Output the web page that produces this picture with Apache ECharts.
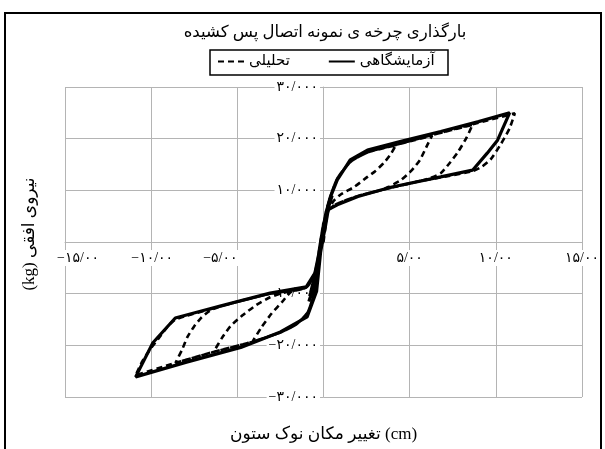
<!DOCTYPE html>
<html>
<head>
<meta charset="utf-8">
<script src="https://cdn.jsdelivr.net/npm/echarts@6/dist/echarts.min.js"></script>
<style>
  html, body { margin: 0; padding: 0; background: #fff; }
  #chart { width: 605px; height: 449px; }
</style>
</head>
<body>
<div id="chart"></div>
<script>
// Axis ticks and their Persian labels
const xTickValues = [-15, -10, -5, 5, 10, 15];
const xTickLabels = ['−۱۵/۰۰', '−۱۰/۰۰', '−۵/۰۰', '۵/۰۰', '۱۰/۰۰', '۱۵/۰۰'];
const yTickValues = [-30000, -20000, -10000, 10000, 20000, 30000];
const yTickLabels = ['−۳۰/۰۰۰', '−۲۰/۰۰۰', '−۱۰/۰۰۰', '۱۰/۰۰۰', '۲۰/۰۰۰', '۳۰/۰۰۰'];

// Experimental hysteresis: [tip displacement (cm), horizontal force (kg)]
const expSmallCycles = [
  [-0.1, 0], [0.1, 3500], [0.3, 6500], [0.15, 4500], [-0.05, 1000], [-0.3, -4000], [-0.55, -7500],
  [-0.4, -5500], [-0.15, -1500], [0.05, 2500], [0.3, 7000], [0.5, 9000], [0.3, 6800], [0.05, 3000],
  [-0.2, -1500], [-0.5, -6500], [-0.8, -10500], [-0.6, -8000], [-0.3, -3000], [0, 2000]
];
const expMidCycles = [
  [0.2, 5500], [0.45, 8800], [0.25, 7000], [-0.05, 2500], [-0.35, -4500], [-0.7, -10000],
  [-0.85, -11500], [-0.55, -9000], [-0.25, -3500], [0.1, 3000], [0.35, 7800], [0.15, 5800],
  [-0.15, 500], [-0.45, -6000], [-0.75, -9800], [-0.45, -7200], [-0.1, -500], [0.1, 2800]
];
const expOuterCycle = [
  [0.4, 8700], [0.8, 12000], [1.55, 15900], [2.55, 17800], [4.5, 19500], [6.8, 21400], [9.0, 23300],
  [10.8, 25000], [10.1, 19700], [9.5, 17200], [8.65, 13900], [6.8, 12600], [3.9, 10600], [2.0, 8800],
  [0.8, 7200], [0.25, 6200], [0, 3500], [-0.2, -3000], [-0.4, -9500], [-0.95, -14500], [-2.5, -17400],
  [-4.8, -20400], [-8.0, -23300], [-10.9, -26100], [-9.9, -19500], [-8.6, -14700], [-6.0, -12400],
  [-3.1, -9900], [-1.0, -8700], [-0.5, -6000], [-0.25, -2000], [0, 2500]
];

// Analytical hysteresis: [tip displacement (cm), horizontal force (kg)]
const anaSmallCycle = [
  [0, 0], [0.2, 5000], [0.4, 8000], [0.2, 5500], [0, 2000], [-0.3, -4000], [-0.6, -9000],
  [-0.4, -6000], [-0.15, -1000], [0.1, 4000], [0.3, 7200], [0.1, 4800], [-0.2, -500],
  [-0.5, -7500], [-0.7, -10200], [-0.5, -8000], [-0.25, -2500], [0.05, 3500]
];
const anaCycle1 = [
  [0.3, 7800], [0.8, 12300], [1.6, 15600], [2.6, 17400], [4.2, 18700],
  [3.9, 17000], [3.5, 15300], [3.0, 13700], [2.55, 12600], [1.8, 10700], [1.0, 9200], [0.6, 8000],
  [0.3, 6300], [0.05, 3000], [-0.2, -2000], [-0.4, -8000], [-0.9, -13500], [-1.6, -16000],
  [-2.5, -17500], [-4.12, -19300], [-3.6, -16500], [-3.0, -13800], [-2.4, -11600], [-1.9, -9700],
  [-1.0, -8800], [-0.5, -6000], [-0.2, -1000], [0.05, 3500]
];
const anaCycle2 = [
  [0.3, 7800], [0.8, 12300], [1.6, 15600], [2.6, 17400], [4.2, 18800], [6.3, 20600],
  [6.0, 18600], [5.6, 15900], [5.1, 13800], [4.5, 12000], [3.8, 10700], [3.3, 10000], [2.0, 8900],
  [0.8, 7400], [0.3, 6200], [0.05, 3000], [-0.2, -2000], [-0.4, -8000], [-0.9, -13500],
  [-1.6, -16000], [-2.5, -17500], [-4.1, -19300], [-6.38, -21300], [-5.9, -18600], [-5.4, -16300],
  [-4.7, -14200], [-3.9, -12200], [-3.1, -10700], [-2.3, -9800], [-1.0, -8800], [-0.5, -6000],
  [-0.2, -1000], [0.05, 3500]
];
const anaCycle3 = [
  [0.3, 7800], [0.8, 12300], [1.6, 15600], [2.6, 17400], [4.2, 18800], [6.3, 20700], [8.65, 22700],
  [8.3, 20200], [7.8, 17400], [7.3, 15200], [6.8, 13300], [6.2, 12400], [5.6, 11800], [3.3, 10000],
  [2.0, 8900], [0.8, 7400], [0.3, 6200], [0.05, 3000], [-0.2, -2000], [-0.4, -8000], [-0.9, -13500],
  [-1.6, -16000], [-2.5, -17500], [-4.1, -19300], [-6.4, -21300], [-8.59, -23400], [-8.2, -20800],
  [-7.9, -18400], [-7.5, -16300], [-7.1, -14700], [-6.6, -13300], [-6.0, -12500], [-4.8, -11400],
  [-3.1, -10000], [-1.0, -8800], [-0.5, -6000], [-0.2, -1000], [0.05, 3500]
];
const anaCycle4 = [
  [0.3, 7800], [0.8, 12300], [1.6, 15600], [2.6, 17400], [4.2, 18800], [6.3, 20700], [8.65, 22800],
  [11.1, 24900], [10.8, 22000], [10.3, 19000], [9.7, 16000], [9.2, 14600], [8.65, 13700], [6.8, 12500],
  [5.6, 11800], [3.3, 10000], [2.0, 8900], [0.8, 7400], [0.3, 6200], [0.05, 3000], [-0.2, -2000],
  [-0.4, -8000], [-0.9, -13500], [-1.6, -16000], [-2.5, -17500], [-4.1, -19300], [-6.4, -21300],
  [-8.6, -23400], [-10.9, -25800], [-10.5, -23000], [-10.0, -20500], [-9.6, -18800], [-9.1, -16600],
  [-8.6, -15000], [-6.0, -12500], [-3.1, -10000], [-1.0, -8800], [-0.5, -6000], [-0.2, -1000], [0, 0]
];

const titleText = 'بارگذاری چرخه ی نمونه اتصال پس کشیده';
const seriesNames = ['تحلیلی', 'آزمایشگاهی'];
const xAxisTitle = 'تغییر مکان نوک ستون (cm)';
const yAxisTitle = '(kg) نیروی افقی';

const FONT = "'Times New Roman', 'Liberation Serif', 'DejaVu Sans', serif";
const GRID_COLOR = '#b4b4b4';

// plot box and the pixel distance from its edges to the zero lines
const PLOT = { left: 65, right: 23, top: 87, bottom: 52 };
const X_ZERO_FROM_BOTTOM = 155;   // x axis drawn through force = 0
const Y_ZERO_FROM_LEFT = 258;     // y axis drawn through displacement = 0

// horizontal nudges (px) for the negative x labels
const xLabelNudge = { '-15': 13, '-10': 1, '-5': -17 };
const xNudgeKeys = Object.keys(xLabelNudge);

function labelFor(values, labels, v) {
  const i = values.indexOf(v);
  return i < 0 ? '' : labels[i];
}

const TICK_FONT = 14;
const xRich = {
  t: { fontFamily: FONT, fontSize: TICK_FONT, color: '#000', backgroundColor: '#fff', padding: [1, 2] }
};
xNudgeKeys.forEach(function (k, idx) {
  xRich['s' + idx] = { width: 2 * Math.abs(xLabelNudge[k]), fontSize: TICK_FONT };
});

const chart = echarts.init(document.getElementById('chart'), null, { renderer: 'canvas' });
chart.setOption({
  animation: false,
  backgroundColor: '#fff',
  title: {
    text: titleText,
    left: 320,
    top: 19,
    textAlign: 'center',
    textStyle: { fontFamily: FONT, fontSize: 16.5, fontWeight: 'normal', color: '#000' }
  },
  legend: {
    data: seriesNames,
    left: 217,
    top: 54,
    padding: 0,
    itemWidth: 26,
    itemHeight: 12,
    itemGap: 38,
    itemStyle: { opacity: 0 },
    textStyle: { fontFamily: FONT, fontSize: 15, color: '#000' }
  },
  grid: {
    left: PLOT.left, right: PLOT.right, top: PLOT.top, bottom: PLOT.bottom,
    containLabel: false, outerBoundsMode: 'none'
  },
  xAxis: {
    type: 'value',
    min: -15, max: 15, interval: 5,
    position: 'bottom',
    offset: -X_ZERO_FROM_BOTTOM,
    name: xAxisTitle,
    nameLocation: 'middle',
    nameGap: 184,
    nameMoveOverlap: false,
    nameTextStyle: { fontFamily: FONT, fontSize: 17, color: '#000' },
    axisLine: { onZero: false, lineStyle: { color: GRID_COLOR, width: 1 } },
    axisTick: { show: false },
    splitLine: { show: true, lineStyle: { color: GRID_COLOR, width: 1 } },
    axisLabel: {
      show: true,
      margin: 8,
      showMinLabel: true, showMaxLabel: true, hideOverlap: false,
      fontFamily: FONT, fontSize: TICK_FONT, color: '#000',
      rich: xRich,
      formatter: function (v) {
        const t = labelFor(xTickValues, xTickLabels, v);
        if (!t) return '';
        const k = xNudgeKeys.indexOf(String(v));
        if (k < 0) return '{t|' + t + '}';
        return xLabelNudge[xNudgeKeys[k]] >= 0
          ? '{s' + k + '|}{t|' + t + '}'
          : '{t|' + t + '}{s' + k + '|}';
      }
    }
  },
  yAxis: {
    type: 'value',
    min: -30000, max: 30000, interval: 10000,
    position: 'left',
    offset: -Y_ZERO_FROM_LEFT,
    name: yAxisTitle,
    nameLocation: 'middle',
    nameRotate: 90,
    nameGap: 285,
    nameMoveOverlap: false,
    nameTextStyle: { fontFamily: FONT, fontSize: 17, color: '#000', padding: [0, 0, 0, 16] },
    axisLine: { onZero: false, lineStyle: { color: GRID_COLOR, width: 1 } },
    axisTick: { show: false },
    splitLine: { show: true, lineStyle: { color: GRID_COLOR, width: 1 } },
    axisLabel: {
      show: true,
      margin: 3,
      showMinLabel: true, showMaxLabel: true, hideOverlap: false,
      fontFamily: FONT, fontSize: TICK_FONT, color: '#000',
      backgroundColor: '#fff', padding: [1, 2],
      formatter: function (v) { return labelFor(yTickValues, yTickLabels, v); }
    }
  },
  series: [
    {
      name: seriesNames[0],
      type: 'line',
      data: [].concat(anaSmallCycle, anaCycle1, anaCycle2, anaCycle3, anaCycle4),
      symbol: 'none',
      smooth: 0.2,
      color: '#000',
      lineStyle: { color: '#000', width: 2.6, type: [6, 4] },
      z: 3
    },
    {
      name: seriesNames[1],
      type: 'line',
      data: [].concat(expSmallCycles, expMidCycles, expOuterCycle),
      symbol: 'none',
      color: '#000',
      lineStyle: { color: '#000', width: 3.2 },
      z: 4
    }
  ],
  graphic: [
    {
      type: 'rect', silent: true, z: 100,
      shape: { x: 5, y: 13, width: 596, height: 460 },
      style: { fill: 'none', stroke: '#000', lineWidth: 2 }
    },
    {
      type: 'rect', silent: true, z: 100,
      shape: { x: 210, y: 50, width: 238, height: 25 },
      style: { fill: 'none', stroke: '#000', lineWidth: 1.5 }
    }
  ]
});
</script>
</body>
</html>
